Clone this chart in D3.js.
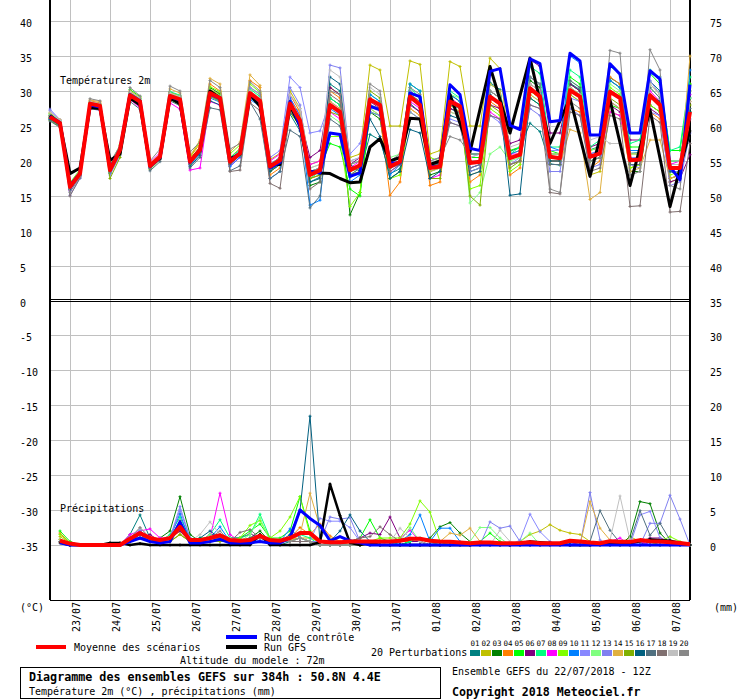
<!DOCTYPE html>
<html>
<head>
<meta charset="utf-8">
<script src="https://cdn.jsdelivr.net/npm/d3@7"></script>
<style>
body { margin: 0; background: #fff; }
svg { display: block; }
text { font-family: "DejaVu Sans Mono", monospace; fill: #000; }
</style>
</head>
<body>
<div id="chart"></div>
<script>
// time axis: GEFS run of 22/07/2018 12Z, 6-hourly up to 384h
var dayLabels = ["23/07","24/07","25/07","26/07","27/07","28/07","29/07","30/07",
                 "31/07","01/08","02/08","03/08","04/08","05/08","06/08","07/08"];
var leftTicksTop = [40, 35, 30, 25, 20, 15, 10, 5, 0];
var leftTicksBottom = [-5, -10, -15, -20, -25, -30, -35];
var rightTicksTop = [75, 70, 65, 60, 55, 50, 45, 40, 35];
var rightTicksBottom = [30, 25, 20, 15, 10, 5, 0];

var pertNames = ["01","02","03","04","05","06","07","08","09","10",
                 "11","12","13","14","15","16","17","18","19","20"];
var pertColors = ["#008080","#c0c000","#008000","#ff8000","#00ff00","#800080","#00ff80","#ff00ff","#80ff00","#0080ff",
                  "#8888ff","#80ff80","#8080f0","#e0b040","#80b000","#006080","#507080","#807070","#c0c0c0","#888888"];

// 2m temperature (°C), 0h..384h every 6h
var tMean = [26.3,25.4,16.3,18.2,28.2,27.9,18.7,21.6,29.4,28.5,19.3,20.6,29.3,28.8,19.9,21.6,29.7,29.0,19.9,21.1,29.7,28.6,
  19.2,20.1,28.2,25.8, 18.0,18.7,28.0,27.0, 18.7,19.4,28.8,28.0, 19.2,19.9,29.2,28.0, 19.0,19.2,28.5,27.8,
  19.7,19.9,29.2,28.2, 20.4,20.9,30.4,29.2, 20.6,20.4,30.1,29.2, 20.6,21.1,29.9,29.0, 20.1,20.2,29.4,28.0, 19.0,19.0,27.0];
var tCtl = [26.4,25.5,16.5,18.3,28.0,27.7,18.9,21.7,29.5,28.6,19.2,20.5,29.2,28.7,19.8,21.5,29.6,28.9,20.0,21.2,29.6,28.5,
  19.0,19.8,28.5,25.0, 18.5,18.3,24.0,23.8, 17.8,18.3,27.8,27.3, 19.7,19.7,29.7,29.2, 19.2,19.2,30.9,29.5,
  21.8,21.5,32.8,33.2, 25.1,24.5,34.6,33.9, 25.6,25.8,35.4,34.3, 23.7,23.7,33.9,32.4, 24.0,24.0,32.9,31.7, 19.2,17.3,30.9];
// GFS deterministic: 12-hourly after 240h
var tGfs = [26.5,25.3,18.2,19.0,27.6,27.5,20.1,21.0,29.0,28.0,19.4,20.4,29.0,28.2,20.0,21.5,30.0,29.0,20.3,21.0,29.5,27.8,
  19.5,19.5,28.0,25.0, 18.5,18.3,18.2,17.5, 16.9,17.0,22.0,23.2, 20.0,20.5,26.1,26.0, 19.5,20.0,29.5,null,
  21.3,null,33.5,null, 24.0,null,34.7,null, 22.5,null,29.0,null, 17.8,null,28.7,null, 16.5,null,27.3,null, 13.5,null,24.4];

var t01 = [26.0,25.2,16.0,18.0,28.0,27.6,18.5,21.4,29.2,28.2,19.0,20.4,29.0,28.5,19.6,21.3,29.3,28.6,19.5,20.8,29.0,28.0,
  18.7,19.6,26.7,24.3, 17.0,17.7,31.0,30.0, 17.7,18.4,23.8,23.0, 18.2,18.9,28.2,27.0, 19.5,19.7,27.5,26.8,
  19.7,19.9,31.2,30.2, 21.4,21.9,25.4,24.2, 19.6,19.4,31.1,30.2, 21.6,22.1,31.9,31.0, 21.1,21.2,31.4,30.0, 20.0,20.0,29.0];
var t02 = [26.8,25.6,16.8,18.5,28.5,28.2,18.8,21.8,29.8,28.9,19.5,21.0,29.8,29.2,20.3,22.0,30.2,29.5,20.5,21.8,30.5,29.5,
  20.2,21.1,30.0,27.5, 19.5,20.0,30.5,29.5, 20.5,21.0,33.7,33.0, 25.0,25.0,34.3,33.8, 21.0,21.5,34.2,33.5,
  25.0,25.0,34.7,33.2, 21.0,21.5,32.0,31.0, 19.5,19.5,30.5,29.5, 18.0,18.5,27.0,26.5, 19.0,19.5,31.0,29.5, 17.0,17.5,31.0];
var t03 = [26.2,25.3,16.5,18.3,28.0,27.8,18.2,21.0,29.5,28.6,19.0,20.3,29.5,29.0,20.2,22.0,30.5,29.6,20.0,21.0,29.5,28.5,
  18.5,19.5,27.5,25.0, 16.5,17.0,29.0,28.0, 12.3,15.5,27.0,26.0, 17.5,18.5,30.0,29.0, 18.0,18.5,29.5,28.5,
  18.5,19.0,30.0,29.0, 19.5,20.0,31.5,30.5, 21.0,21.0,31.0,30.0, 21.5,22.0,31.5,30.5, 18.5,18.5,28.0,27.0, 17.5,18.0,27.0];
var t04 = [26.5,25.6,16.2,18.0,28.6,28.3,19.0,21.8,30.0,29.0,19.5,20.8,29.8,29.3,20.5,22.5,31.0,30.0,19.5,21.5,31.5,30.5,
  18.0,19.0,29.5,27.0, 17.5,18.0,30.0,29.0, 18.0,18.5,27.5,26.5, 15.1,17.0,27.5,26.5, 16.5,17.0,29.0,28.0,
  17.0,18.0,28.5,27.5, 18.0,19.0,30.0,29.0, 20.0,20.0,27.5,27.0, 19.0,20.0,32.0,31.0, 21.0,21.0,27.0,26.0, 17.5,18.0,28.5];
var t05 = [26.1,25.0,16.6,18.5,28.3,28.0,18.6,21.5,30.2,29.2,19.2,20.5,28.8,28.0,20.0,21.6,29.5,28.8,20.3,21.3,30.0,28.8,
  19.5,20.5,27.0,25.0, 18.5,19.0,22.5,22.0, 16.0,15.0,27.0,26.5, 20.0,20.5,31.0,30.0, 19.5,19.5,28.0,27.0,
  20.5,20.5,29.0,28.0, 21.5,22.0,29.0,28.0, 21.5,21.0,32.0,31.0, 20.0,20.5,28.0,27.5, 22.0,22.0,32.5,31.0, 21.5,21.5,31.0];
var t06 = [26.4,25.5,16.0,18.0,28.0,27.7,18.9,21.7,29.3,28.4,19.6,20.9,29.5,28.9,19.8,21.4,29.6,28.9,19.8,20.9,29.3,28.3,
  19.5,20.5,28.5,26.0, 20.5,21.5,30.5,29.5, 19.5,20.5,28.5,27.5, 19.5,20.0,28.0,27.0, 19.0,20.0,27.5,27.0,
  21.0,21.0,28.0,27.5, 22.5,23.0,34.5,33.5, 24.0,24.0,31.0,30.0, 22.0,22.5,28.0,27.0, 23.0,23.0,27.5,26.5, 17.0,17.5,20.9];
var t07 = [26.7,25.8,16.5,18.4,28.4,28.1,18.4,21.2,29.7,28.9,19.4,20.7,29.9,29.4,19.5,21.8,30.0,29.3,20.5,21.6,30.3,29.2,
  19.0,20.0,28.0,26.0, 17.5,18.5,29.0,28.0, 18.0,19.0,29.5,28.5, 19.5,20.0,30.5,29.0, 20.0,20.5,30.0,29.0,
  21.0,21.0,31.0,30.0, 21.0,22.0,33.5,32.5, 22.0,22.0,33.0,32.0, 22.0,23.0,33.5,32.5, 22.5,23.0,33.0,31.5, 21.5,22.0,32.0];
var t08 = [26.0,25.1,15.8,17.8,27.8,27.4,19.2,22.0,28.8,27.6,19.8,21.2,28.3,27.4,18.7,19.0,28.5,28.0,19.3,20.5,29.2,28.0,
  20.0,21.0,29.0,26.5, 19.5,20.0,27.0,26.0, 19.0,20.0,29.0,28.0, 18.5,19.5,28.5,27.5, 17.5,18.0,29.0,28.0,
  19.0,19.5,27.0,26.0, 21.0,21.0,31.0,30.0, 20.0,20.0,29.5,28.5, 20.5,21.0,27.0,26.5, 20.0,20.5,30.0,28.5, 19.5,20.0,29.5];
var t09 = [26.3,25.5,16.9,18.8,28.1,27.8,19.4,22.3,29.5,28.7,18.8,20.2,29.2,28.7,20.6,22.8,30.6,29.9,21.0,22.3,31.0,29.8,
  18.5,19.5,28.0,26.0, 18.0,18.5,23.5,23.5, 13.5,15.5,29.0,28.0, 17.5,18.0,27.0,26.0, 20.5,20.0,27.0,26.5,
  16.0,16.5,27.5,26.5, 18.5,19.5,30.0,29.0, 21.0,21.0,29.5,28.5, 21.5,22.0,30.5,29.5, 19.0,19.5,28.0,27.0, 18.0,18.5,30.0];
var t10 = [25.9,25.0,16.1,18.1,27.9,27.5,18.3,21.3,29.0,28.1,19.1,20.4,29.1,28.6,19.4,21.0,29.0,28.4,19.2,20.6,28.8,27.8,
  17.5,18.5,29.0,26.5, 13.7,14.4,27.5,26.5, 17.0,18.0,29.5,28.5, 18.0,19.5,31.0,30.0, 18.5,19.0,29.5,28.5,
  19.0,19.5,29.0,28.0, 21.0,21.5,32.0,31.0, 22.0,21.5,35.0,34.0, 21.0,21.5,31.5,30.5, 21.5,21.5,32.5,32.0, 18.5,18.5,33.0];
var t11 = [27.4,25.9,15.6,17.7,28.0,27.8,18.6,21.5,29.3,28.4,19.3,20.6,29.4,28.9,19.9,21.7,29.8,29.1,20.2,21.6,30.5,29.6,
  20.5,21.5,32.0,30.5, 24.0,24.3,28.5,27.5, 21.0,22.5,28.0,27.5, 20.0,20.5,30.0,29.0, 19.5,20.0,26.0,25.5,
  20.5,21.0,26.5,25.5, 19.5,20.5,28.0,27.5, 21.5,21.5,29.0,28.5, 21.0,21.5,28.5,27.5, 20.5,20.5,27.0,26.5, 16.5,17.0,24.0];
var t12 = [26.6,25.7,16.4,18.3,28.4,28.0,18.8,21.7,29.6,28.8,19.4,20.8,29.6,29.1,20.1,21.9,30.1,29.3,20.3,21.5,30.0,28.9,
  19.0,20.0,28.5,26.0, 19.0,19.5,26.5,25.5, 19.5,20.0,27.5,26.5, 20.5,21.0,29.5,28.5, 18.5,19.0,29.5,29.0,
  14.0,15.5,21.0,22.0, 20.0,20.5,29.5,28.5, 20.5,20.5,31.5,30.5, 21.5,22.0,31.0,30.0, 21.0,21.0,30.5,29.0, 20.0,20.0,29.0];
var t13 = [27.2,25.8,15.1,17.5,27.5,27.2,18.0,20.8,28.9,28.0,19.0,20.2,28.9,28.3,19.6,21.4,29.4,28.8,20.0,21.0,29.8,28.8,
  19.5,20.5,30.5,28.0, 18.5,19.0,33.7,33.3, 20.0,20.5,27.0,26.5, 20.0,20.5,27.0,26.0, 20.0,20.5,25.5,25.0,
  18.5,19.0,26.5,26.0, 19.5,20.0,27.5,26.5, 18.5,18.5,27.5,26.5, 19.0,19.5,28.5,27.5, 19.5,19.0,31.5,29.5, 18.5,18.5,26.0];
var t14 = [26.9,25.9,16.7,18.6,28.7,28.5,19.0,21.9,30.0,29.1,19.7,21.0,30.3,29.7,20.7,23.0,31.8,31.0,21.3,22.7,32.3,30.8,
  18.5,19.5,28.5,27.0, 17.5,18.0,28.5,27.5, 18.0,18.5,29.0,28.0, 19.0,20.0,27.5,26.5, 18.5,19.0,28.0,27.0,
  18.0,18.5,31.0,30.0, 19.5,20.0,29.5,28.5, 19.5,19.5,24.5,24.0, 14.5,15.5,28.5,27.5, 18.5,19.0,23.0,23.0, 17.5,18.0,35.0];
var t15 = [25.8,24.9,16.3,18.2,27.6,27.3,17.5,20.5,29.0,28.1,19.2,20.5,29.0,28.4,19.5,21.2,29.2,28.5,19.7,20.8,29.4,28.2,
  19.0,20.0,27.0,25.0, 17.5,18.0,27.0,26.5, 18.5,19.0,30.0,29.0, 19.0,20.0,29.5,28.5, 17.5,17.5,28.5,27.5,
  15.0,13.7,28.0,27.0, 19.0,20.0,31.0,30.0, 20.0,20.0,30.5,29.5, 20.0,20.5,29.0,28.0, 19.5,19.5,29.5,28.0, 19.0,19.0,28.0];
var t16 = [26.0,25.1,15.9,17.9,28.2,27.9,18.7,21.6,29.4,28.5,19.3,20.6,29.2,28.6,19.2,20.8,28.6,28.0,19.6,20.9,29.5,28.4,
  18.5,19.5,27.0,25.5, 17.0,17.5,32.0,31.0, 19.5,18.5,26.0,23.5, 17.5,18.5,24.5,24.0, 17.5,18.5,26.5,26.0,
  18.0,18.5,29.5,28.0, 15.1,15.3,29.0,28.0, 20.0,20.0,30.0,29.0, 20.5,21.0,30.0,29.0, 20.0,20.0,29.5,28.5, 18.5,18.0,27.0];
var t17 = [25.7,24.8,16.2,18.1,28.1,27.8,18.6,21.3,28.5,27.4,18.6,19.9,28.6,27.9,19.0,20.5,27.6,27.3,18.6,19.3,28.4,26.0,
  17.5,18.5,24.4,23.5, 13.3,15.0,26.0,25.0, 18.0,18.5,28.0,27.5, 19.0,19.5,29.0,28.0, 19.5,19.5,28.0,27.5,
  20.0,20.0,30.0,29.0, 20.5,21.0,30.5,29.5, 19.5,19.5,31.5,30.5, 20.0,20.5,30.0,29.0, 19.5,19.5,30.5,29.0, 19.5,19.5,27.5];
var t18 = [26.2,25.2,15.0,17.6,27.9,27.6,18.4,21.2,29.1,28.2,18.9,20.2,29.2,28.7,19.7,21.2,29.3,28.7,18.5,18.7,28.3,27.2,
  16.8,16.1,27.0,25.5, 16.0,17.0,29.5,28.5, 18.0,19.0,29.0,28.0, 18.5,19.5,29.5,28.5, 19.0,19.0,25.5,25.0,
  19.0,19.5,26.5,26.0, 19.5,20.0,28.0,27.5, 15.5,15.3,27.0,26.5, 18.5,19.0,26.5,26.0, 13.5,13.6,26.5,25.5, 12.7,12.8,22.5];
var t19 = [27.0,25.8,16.3,18.3,28.5,28.2,19.1,21.9,29.9,29.0,19.3,20.7,29.7,29.2,19.8,21.5,29.7,29.1,19.9,21.2,30.0,29.0,
  19.0,20.0,29.5,27.5, 19.0,19.5,33.0,32.0, 20.0,20.5,30.5,29.5, 20.0,20.5,29.0,28.0, 20.0,20.0,27.0,26.5,
  20.5,21.0,30.0,29.0, 22.0,22.5,31.0,30.0, 21.0,21.0,30.5,29.5, 23.0,23.5,22.5,22.5, 18.0,18.5,31.0,29.5, 19.5,19.5,28.5];
var t20 = [26.5,25.5,15.5,17.8,28.9,28.6,19.8,22.2,30.5,29.3,20.0,21.7,30.7,30.0,21.3,22.7,31.5,30.5,21.7,22.5,31.3,30.0,
  19.5,20.5,28.5,26.0, 18.5,19.0,30.0,29.5, 19.5,20.0,31.0,30.0, 20.0,21.0,30.5,29.5, 20.0,20.5,23.5,23.0,
  21.0,21.0,30.0,29.0, 20.5,21.0,32.0,31.0, 16.0,15.5,28.5,27.5, 20.0,20.5,35.8,35.4, 18.0,18.5,35.9,33.0, 16.5,16.0,30.0];

// 6-hourly precipitation (mm), 6h..384h
var pMean = [0.6,0.2,0,0,0,0,0,0.9, 1.7,1.0,0.7,1.0,2.6,0.7,0.7,1.0, 1.4,0.7,0.6,0.7,1.3,0.7,0.6,1.0,
  1.7,1.7,0.5,0.4,0.4,0.5,0.5,0.5, 0.5,0.5,0.6,0.9,0.9,0.6,0.5,0.45, 0.35,0.25,0.35,0.35,0.25,0.25,0.3,0.4,
  0.25,0.25,0.25,0.6,0.5,0.35,0.25,0.55, 0.45,0.45,0.7,0.55,0.5,0.4,0.3,0.1];
var pCtl = [0.3,0,0,0,0,0,0,0.5, 1.0,0.5,0.3,0.5,3.3,0.3,0.3,0.5, 0.8,0.3,0.3,0.3,0.5,0.3,0.3,1.0,
  5.0,3.8,2.8,0.6,1.2,0.6,0.3,0, 0,0,0,0,0,0,0,0, 0,0,0,0,0,0,0,0, 0,0,0,0,0,0,0,0, 0,0,0,0,0,0,0,0];
var pGfs = [0.3,0,0,0,0,0.3,0.3,0, 0.2,0,0,0,0,0,0,0, 0,0,0,0,1.5,0,0,0,
  0,0,0.4,8.7,4.2,0.3,0,0.3, 0,0,0,0,0,0,0,0, null,0,null,0.3,null,0,null,0.5,
  null,0.3,null,0,null,0,null,0.3, null,0.3,null,0.8,null,0.6,null,0];

var p01 = [0.5,0,0,0,0,0,0,1.5, 4.3,1.0,0.5,1.0,2.5,0.5,0.5,1.0, 1.0,0.5,0.3,0.5,1.0,0.5,0,0.5, 1.0,0.5,0,0,0,0,0,0,
  0,0,0,0.5,0.5,0,0,0, 0,0,0,0,0,0,0,0, 0,0,0,0,0,0,0,0.5, 0.5,0,0,0.5,0,0,0,0];
var p02 = [1.2,0.3,0,0,0,0,0,0.8, 1.5,0.8,0.5,1.0,2.0,0.5,0.5,0.8, 1.2,0.5,0.5,0.5,1.0,0.5,0.5,0.8, 1.0,1.0,0.5,0,0,0,0,0,
  0,0,0,0,0,0,0,0, 0,0,0,0,0,0,0.5,1.5, 2.0,2.9,2.1,1.7,1.5,0.5,0,0, 0,1.2,0.5,0,0,0,0,0];
var p03 = [0.5,0,0,0,0,0,0,0.5, 1.0,0.5,1.0,2.0,6.9,1.5,0.5,0.5, 1.0,0.5,0.5,1.0,2.0,0.5,0.5,0.5, 1.0,0.5,0,0,0,0.5,0,0,
  0,0,0,0.5,0.5,1.0,2.6,3.2, 1.7,0.5,0,0,0,0,0,0, 0,0,0,0,0,0,0,0, 0,1.2,6.2,5.9,1.7,0.2,0,0];
var p04 = [1.7,0.3,0,0,0,0,0,1.0, 1.5,1.0,0.5,0.8,2.0,0.5,0.5,1.0, 1.0,0.5,0.5,0.5,1.0,0.5,0.5,1.0, 2.5,1.5,3.0,1.3,0.5,0,0,0,
  0,0,0.5,0.5,0.5,0,0,0, 0,0,0,0,0,0,0,0, 0,0,0,0.5,0,0,0,0, 0,0,0.5,0,0,0,0,0];
var p05 = [2.0,0.5,0,0,0,0,0,1.0, 1.5,1.0,0.5,1.0,2.5,0.5,1.0,1.0, 1.5,1.0,1.0,2.0,3.0,1.0,1.0,2.0, 6.9,2.0,0.5,0,0,0.5,1.0,3.6,
  1.0,0.5,0,0.5,0.5,0,0,0.5, 0,0,0.5,1.7,0.5,0,0,0, 0,0,0,0,0,0,0,0, 0,0,0,0,0,0,0,0];
var p06 = [0.5,0,0,0,0,0,0,0.8, 1.0,1.5,0.5,1.0,2.0,0.5,0.5,1.5, 1.5,1.0,1.0,1.6,1.0,0.5,0.5,0.5, 0.5,0.5,0.5,0,0,0.5,1.0,1.7,
  1.5,4.0,1.0,0.5,0.5,0,0,0, 0,0,0,0,0,0,0,0, 0,0,0,0,0,0,0,0, 0,0,0,1.0,1.0,0.5,0,0];
var p07 = [0.8,0,0,0,0,0,0,1.0, 2.0,1.0,0.5,1.5,4.0,1.0,0.5,1.5, 3.6,1.0,1.0,1.5,4.4,1.0,0.5,1.0, 1.5,1.0,0,0,0,0,0,0,
  0,0,0,0.5,1.0,0.5,0,0, 0,0,0,0,0,0,0,0, 0,0,0,0,0,0,0,0.5, 0.5,0,0,0,0,0,0,0];
var p08 = [0.5,0,0,0,0,0,0,1.5, 2.0,2.3,1.0,1.0,2.5,0.5,0.5,1.0, 7.4,1.5,0.5,0.5,1.0,0.5,0.5,0.5, 1.0,0.5,0,0,0,0,0,0,
  0,0,1.0,2.1,0.5,0,0,0, 0,0,0,0,0,0,0,0, 0,0,0,0,0.5,0,0,0.5, 1.0,0,0.5,0,0,0,0,0];
var p09 = [1.5,0.3,0,0,0,0,0,0.5, 1.0,0.5,0.5,0.5,1.5,0.5,0.5,0.5, 1.0,0.5,1.0,2.8,3.5,1.0,2.0,4.0, 6.9,1.5,0,0,0,0,0.5,0.5,
  1.0,1.0,1.0,3.0,6.3,4.7,0.5,0, 0,0,0,0,0,0,0,0, 0,0,0,0,0,0,0,0, 0,0,0,0,0.5,1.2,0.5,0];
var p10 = [0.5,0,0,0,0,0,0,1.0, 2.0,1.0,0.5,1.0,4.5,0.5,0.5,1.0, 2.6,0.5,0.5,0.5,1.0,0.5,0.5,2.3, 1.0,0.5,0,0,0,0,0,0,
  0,0,0.5,1.5,4.3,0.5,2.4,2.4, 0.5,0,0,0,0,0,0,0, 0,0,0,0,0,0,0,0, 0,0,0,0,0,0,0,0];
var p11 = [0.5,0,0,0,0,0,0,0.8, 1.5,1.0,0.5,1.0,5.5,1.0,0.5,1.0, 1.0,0.5,0.5,0.5,1.0,0.5,0.5,0.5, 1.0,0.5,3.8,3.4,3.4,2.5,0.5,0,
  0,0,0,0,0,0,0,0, 0,0,0,0,0,0,0.7,4.4, 1.9,0.5,0,0,0,0,0,0.5, 0.5,0,4.3,4.8,1.0,0,0,0];
var p12 = [0.5,0,0,0,0,0,0,0.5, 1.5,1.0,0.5,1.0,3.0,0.5,0.5,1.5, 1.0,0.5,0.5,1.5,3.9,0.5,0.5,0.5, 1.0,0.5,0,0,0,0,0,0,
  0,0,0.5,2.5,0.5,0,0,0, 0,0.5,2.5,2.5,1.0,0,0.5,1.7, 0,0,0,0,0,0,0,0, 0,0,0,0,0,0,0,0];
var p13 = [0.5,0,0,0,0,0,0,0.5, 2.0,1.0,0.5,1.0,5.0,1.0,0.5,1.0, 1.0,0.5,0.5,0.5,1.0,0.5,0.5,0.5, 1.0,0.5,0.5,4.0,3.7,3.9,0.5,0,
  0,0,0,0,0,0,0,0, 0,0,0,3.3,2.4,2.7,0.5,0, 0,0,0,0,0,7.5,0.7,0, 0,0,0,3.1,3.1,7.1,3.7,0];
var p14 = [0.8,0,0,0,0,0,0,0.5, 1.0,0.5,0.5,0.5,1.5,0.5,0.5,0.5, 0.5,0.5,0.5,0.5,1.0,0.5,0.5,0.5, 1.5,7.4,2.5,1.0,0.5,0,0,0,
  0,0,0,0,0,0,0.5,1.7, 1.4,2.4,0.5,0,0,0,0,0, 0,0,0,0,0,6.2,2.4,0.7, 0,0,0,0,0,0,0,0];
var p15 = [0.5,0,0,0,0,0,0,0.5, 1.0,0.5,0.5,0.5,1.5,0.5,0.5,0.5, 0.5,0.5,0.5,0.5,1.0,0.5,0.5,0.5, 1.0,0.5,0,0,0,0,0,0,
  0,0,0,0,0,0,0,0, 0,0,0,0,0,0,0,0, 0,0,0,0,0,0,0,0, 0.5,0,0,0,0,0,0,0];
var p16 = [0.5,0,0,0,0,0,0,0.5, 1.5,0.5,0.5,1.0,3.0,0.5,1.0,2.0, 1.0,0.5,0.5,0.5,1.0,0.5,0.5,1.5, 5.0,18.4,0.5,0.5,2.0,4.3,2.0,0.5,
  0,0,0,0,0,0,0,0, 0,0,0,0,0,0,0,0, 0,0,0,0,0,0,0,0, 0,0,0,0,0,0,0,0];
var p17 = [0.5,0,0,0,0,0,0,0.5, 1.5,0.5,0.5,1.0,3.5,0.5,0.5,1.0, 1.0,0.5,0.5,1.0,1.5,0.5,0.5,0.5, 0.5,0.5,0,0,0,0,0,0,
  0,0,0,0,0,0,0,0, 0,0,0,0,0,0,0,0, 0,0,0,0,0,0.5,4.9,2.1, 0.3,0.5,4.9,1.4,3.1,0.7,0,0];
var p18 = [0.5,0,0,0,0,0,0,0.5, 1.5,0.5,0.5,1.0,2.5,0.5,0.5,1.0, 1.0,0.5,1.8,2.2,1.0,0.5,0.5,0.5, 0.5,0.5,0,0,0,0.5,1.0,1.2,
  2.6,1.5,0.5,1.0,0.5,0,0,0, 0,0,0,0,0,0,0,0, 0,0,0,0,0,0,0,0, 0,0,0,0,0,0,0,0];
var p19 = [0.5,0,0,0,0,0,0,1.0, 2.5,1.0,0.5,1.0,3.0,0.5,1.5,3.3, 1.5,1.0,0.5,0.5,1.0,0.5,0.5,0.5, 1.0,0.5,0,0,0,0,0,0,
  0,0.5,2.4,1.0,0.5,0,0,0, 0,0,0,0,2.1,0.5,0,0, 0,0,0,0,0,0,0,0.7, 7.0,0.7,0,0,0,0,0,0];
var p20 = [0.5,0,0,0,0,0,0,1.0, 2.5,1.0,0.5,1.0,2.5,0.5,0.5,1.0, 2.0,0.5,0.5,0.5,1.0,0.5,0.5,0.5, 1.0,0.5,0,0,0,0,0,0,
  0,0,0,0,0,0,0,0, 0,0,0,0,0,0,0,0, 0,0,0,0,0,0,0,0, 0,0,0,0,0,0,0,0];

var tempPerts = [t01,t02,t03,t04,t05,t06,t07,t08,t09,t10,t11,t12,t13,t14,t15,t16,t17,t18,t19,t20];
var precPerts = [p01,p02,p03,p04,p05,p06,p07,p08,p09,p10,p11,p12,p13,p14,p15,p16,p17,p18,p19,p20];

var tHours = d3.range(0, 385, 6);
var pHours = d3.range(6, 385, 6);

var width = 740, height = 700;

var svg = d3.select("#chart")
    .append("svg")
    .attr("width", width)
    .attr("height", height);

var x = d3.scaleLinear().domain([0, 384]).range([50, 690]);
var yT = d3.scaleLinear().domain([0, 40]).range([301, 21]);
var yR = d3.scaleLinear().domain([35, 75]).range([301, 21]);
var yP = d3.scaleLinear().domain([0, 35]).range([545, 300]);
var yL = d3.scaleLinear().domain([-35, 0]).range([545, 300]);

// grid
var grid = svg.append("g")
    .attr("stroke", "#c0c0c0")
    .attr("stroke-width", 1)
    .attr("shape-rendering", "crispEdges");

grid.selectAll(".gv")
    .data(d3.range(12, 384, 24))
    .enter().append("line")
    .attr("x1", function(d) { return x(d); })
    .attr("x2", function(d) { return x(d); })
    .attr("y1", 0)
    .attr("y2", 600);

grid.selectAll(".gt")
    .data(d3.range(5, 41, 5))
    .enter().append("line")
    .attr("x1", 50).attr("x2", 690)
    .attr("y1", function(d) { return yT(d); })
    .attr("y2", function(d) { return yT(d); });

grid.selectAll(".gp")
    .data(d3.range(0, 31, 5))
    .enter().append("line")
    .attr("x1", 50).attr("x2", 690)
    .attr("y1", function(d) { return yP(d); })
    .attr("y2", function(d) { return yP(d); });

// frame
var frame = svg.append("g")
    .attr("stroke", "#000")
    .attr("shape-rendering", "crispEdges");
frame.append("line").attr("x1", 50).attr("x2", 50).attr("y1", 0).attr("y2", 600).attr("stroke-width", 2);
frame.append("line").attr("x1", 690).attr("x2", 690).attr("y1", 0).attr("y2", 600).attr("stroke-width", 2);
frame.append("line").attr("x1", 50).attr("x2", 690).attr("y1", 299).attr("y2", 299);
frame.append("line").attr("x1", 50).attr("x2", 690).attr("y1", 301.5).attr("y2", 301.5);
frame.append("line").attr("x1", 50).attr("x2", 690).attr("y1", 600).attr("y2", 600);

// axis labels
var labels = svg.append("g").attr("font-size", "10px");

labels.selectAll(".lt")
    .data(leftTicksTop)
    .enter().append("text")
    .attr("x", 20)
    .attr("y", function(d) { return yT(d) + 6; })
    .text(function(d) { return d; });

labels.selectAll(".lb")
    .data(leftTicksBottom)
    .enter().append("text")
    .attr("x", 20)
    .attr("y", function(d) { return yL(d) + 6; })
    .text(function(d) { return d; });

labels.selectAll(".rt")
    .data(rightTicksTop)
    .enter().append("text")
    .attr("x", 710)
    .attr("y", function(d) { return yR(d) + 6; })
    .text(function(d) { return d; });

labels.selectAll(".rb")
    .data(rightTicksBottom)
    .enter().append("text")
    .attr("x", 710)
    .attr("y", function(d) { return yP(d) + 6; })
    .text(function(d) { return d; });

labels.selectAll(".day")
    .data(dayLabels)
    .enter().append("text")
    .attr("text-anchor", "end")
    .attr("transform", function(d, i) {
        return "translate(" + (x(12 + 24 * i) + 10) + ",602) rotate(-90)";
    })
    .text(function(d) { return d; });

labels.append("text").attr("x", 20).attr("y", 611).text("(°C)");
labels.append("text").attr("x", 714).attr("y", 611).text("(mm)");
labels.append("text").attr("x", 60).attr("y", 84).text("Températures 2m");
labels.append("text").attr("x", 60).attr("y", 512).text("Précipitations");

// series
var lineT = d3.line()
    .x(function(d) { return x(d[0]); })
    .y(function(d) { return yT(d[1]); });
var lineP = d3.line()
    .x(function(d) { return x(d[0]); })
    .y(function(d) { return yP(d[1]); });

function pairs(hours, vals) {
    return hours.map(function(h, i) { return [h, vals[i]]; })
        .filter(function(d) { return d[1] != null; });
}

function crosses(pts, ys) {
    return pts.map(function(d) {
        var cx = x(d[0]), cy = ys(d[1]);
        return "M" + (cx - 1.5) + "," + cy + "H" + (cx + 1.5) + "M" + cx + "," + (cy - 1.5) + "V" + (cy + 1.5);
    }).join("");
}

function drawSeries(g, hours, vals, ys, line, color, w, marks) {
    var pts = pairs(hours, vals);
    g.append("path")
        .attr("d", line(pts))
        .attr("fill", "none")
        .attr("stroke", color)
        .attr("stroke-width", w)
        .attr("stroke-linejoin", "round");
    if (marks) {
        g.append("path")
            .attr("d", crosses(pts, ys))
            .attr("fill", "none")
            .attr("stroke", color)
            .attr("stroke-width", 1);
    }
}

var gT = svg.append("g");
var gP = svg.append("g");

tempPerts.forEach(function(vals, k) {
    drawSeries(gT, tHours, vals, yT, lineT, pertColors[k], 1, true);
});
precPerts.forEach(function(vals, k) {
    drawSeries(gP, pHours, vals, yP, lineP, pertColors[k], 1, true);
});

drawSeries(gT, tHours, tGfs, yT, lineT, "#000", 3, false);
drawSeries(gP, pHours, pGfs, yP, lineP, "#000", 2.5, true);
drawSeries(gT, tHours, tCtl, yT, lineT, "#0000ff", 3, false);
drawSeries(gP, pHours, pCtl, yP, lineP, "#0000ff", 3, false);
drawSeries(gT, tHours, tMean, yT, lineT, "#ff0000", 4, false);
drawSeries(gP, pHours, pMean, yP, lineP, "#ff0000", 4, false);

// legend
var leg = svg.append("g").attr("font-size", "10px");
leg.append("line").attr("x1", 36).attr("x2", 66).attr("y1", 647).attr("y2", 647)
    .attr("stroke", "#ff0000").attr("stroke-width", 4);
leg.append("text").attr("x", 74).attr("y", 651).text("Moyenne des scénarios");
leg.append("line").attr("x1", 226).attr("x2", 257).attr("y1", 637).attr("y2", 637)
    .attr("stroke", "#0000ff").attr("stroke-width", 4);
leg.append("text").attr("x", 264).attr("y", 641).text("Run de contrôle");
leg.append("line").attr("x1", 226).attr("x2", 257).attr("y1", 647).attr("y2", 647)
    .attr("stroke", "#000").attr("stroke-width", 4);
leg.append("text").attr("x", 264).attr("y", 651).text("Run GFS");
leg.append("text").attr("x", 180).attr("y", 664).text("Altitude du modele : 72m");
leg.append("text").attr("x", 371).attr("y", 656).text("20 Perturbations");

leg.selectAll(".pn")
    .data(pertNames)
    .enter().append("text")
    .attr("x", function(d, i) { return 475 + 11 * i; })
    .attr("y", 646)
    .attr("text-anchor", "middle")
    .attr("font-size", "7.5px")
    .text(function(d) { return d; });

leg.selectAll(".pb")
    .data(pertColors)
    .enter().append("rect")
    .attr("x", function(d, i) { return 470 + 11 * i; })
    .attr("y", 650)
    .attr("width", 10)
    .attr("height", 6)
    .attr("fill", function(d) { return d; });

leg.append("rect")
    .attr("x", 20.5).attr("y", 667.5)
    .attr("width", 420).attr("height", 31)
    .attr("fill", "none").attr("stroke", "#000");
leg.append("text").attr("x", 29).attr("y", 681).attr("font-size", "11.7px").attr("font-weight", "bold")
    .text("Diagramme des ensembles GEFS sur 384h : 50.8N 4.4E");
leg.append("text").attr("x", 29).attr("y", 695)
    .text("Température 2m (°C) , précipitations (mm)");
leg.append("text").attr("x", 452).attr("y", 675)
    .text("Ensemble GEFS du 22/07/2018 - 12Z");
leg.append("text").attr("x", 452).attr("y", 696).attr("font-size", "11.6px").attr("font-weight", "bold")
    .text("Copyright 2018 Meteociel.fr");
</script>
</body>
</html>
